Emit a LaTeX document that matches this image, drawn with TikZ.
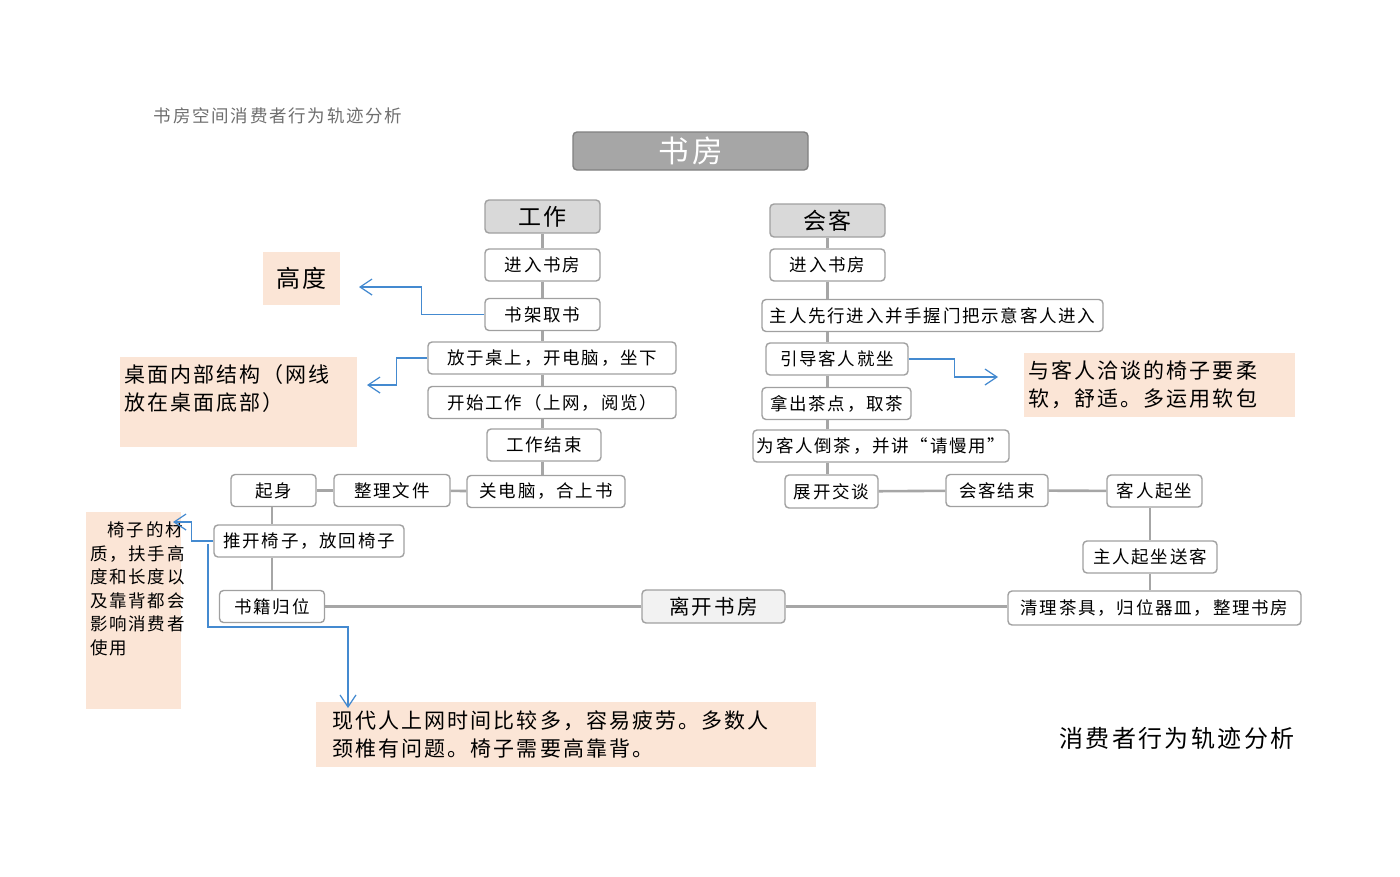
\documentclass[tikz,border=0pt]{standalone}
\usepackage{fontspec}
\setmainfont{Noto Sans CJK SC}[LetterSpace=10]
\usetikzlibrary{arrows.meta}
\definecolor{boxline}{HTML}{A0A0A0}
\definecolor{linkgray}{HTML}{A6A6A6}
\definecolor{headgray}{HTML}{A6A6A6}
\definecolor{branchgray}{HTML}{D9D9D9}
\definecolor{leavegray}{HTML}{F2F2F2}
\definecolor{hintblue}{RGB}{68,138,208}
\definecolor{notefill}{HTML}{FBE5D6}
\definecolor{titlegray}{HTML}{6E6E6E}
\tikzset{
stepbox/.style={draw=boxline, line width=1.4pt, rounded corners=4pt, fill=white, inner sep=0pt, minimum height=32pt, font=\fontsize{17.5}{20}\selectfont}, % every step of the trace
branch/.style={stepbox, fill=branchgray, minimum width=115pt, minimum height=33pt, font=\fontsize{23}{26}\selectfont}, % the two uses of the room
roomhead/.style={stepbox, draw=gray, fill=headgray, text=white, minimum width=235pt, minimum height=38pt, font=\fontsize{30.5}{32}\selectfont}, % the room itself
leave/.style={fill=leavegray, font=\fontsize{20.5}{23}\selectfont}, % the common end
link/.style={draw=linkgray, line width=2.6pt}, % grey connectors
hint/.style={->, >={Straight Barb[length=12pt,width=16pt]}, draw=hintblue, line width=1.2pt}, % blue pointers to the notes
note/.style={fill=notefill, anchor=north west, inner xsep=4pt, inner ysep=4pt, align=left, font=\fontsize{21}{28}\selectfont}, % peach remarks
}
\begin{document}
\begin{tikzpicture}[x=1pt, y=-1pt]
    \useasboundingbox (0,0) rectangle (1400,876);
    % headings
    \node[text=titlegray, font=\fontsize{17.5}{20}\selectfont] (pagetitle) at (278,116) {书房空间消费者行为轨迹分析};
    \node[roomhead] (room) at (690.5,151) {书房};
    \node[branch] (work) at (542.5,216.5) {工作};
    \node[branch] (visit) at (827.5,220.5) {会客};
    % working
    \node[stepbox, minimum width=115pt] (wEnter) at (542.5,265) {进入书房};
    \node[stepbox, minimum width=115pt] (wFetch) at (542.5,314.5) {书架取书};
    \node[stepbox, minimum width=248pt] (wPlace) at (552,358) {放于桌上，开电脑，坐下};
    \node[stepbox, minimum width=248pt] (wStart) at (552,402.5) {开始工作（上网，阅览）};
    \node[stepbox, minimum width=114pt] (wEnd) at (544,445) {工作结束};
    \node[stepbox, minimum width=158pt] (wClose) at (546,491.5) {关电脑，合上书};
    \node[stepbox, minimum width=116pt] (wTidy) at (392,490.5) {整理文件};
    \node[stepbox, minimum width=85pt] (wRise) at (273.5,490.5) {起身};
    \node[stepbox, minimum width=190pt] (wChair) at (309,541) {推开椅子，放回椅子};
    \node[stepbox, minimum width=105pt] (wBooks) at (272,606.5) {书籍归位};
    \node[stepbox, leave, minimum width=143pt, minimum height=33pt] (leave) at (713.5,606.5) {离开书房};
    % receiving a guest
    \node[stepbox, minimum width=115pt] (vEnter) at (827.5,265) {进入书房};
    \node[stepbox, minimum width=341pt] (vHost) at (932.5,315.5) {主人先行进入并手握门把示意客人进入};
    \node[stepbox, minimum width=142pt] (vGuide) at (837,359) {引导客人就坐};
    \node[stepbox, minimum width=149pt] (vSnack) at (836.5,403.5) {拿出茶点，取茶};
    \node[stepbox, minimum width=256pt] (vTea) at (881,446) {为客人倒茶，并讲“请慢用”};
    \node[stepbox, minimum width=93pt, minimum height=33pt] (vTalk) at (831.5,491.5) {展开交谈};
    \node[stepbox, minimum width=102pt] (vEnd) at (997,490.5) {会客结束};
    \node[stepbox, minimum width=95pt] (vRise) at (1154.5,491) {客人起坐};
    \node[stepbox, minimum width=134pt] (vSeeOff) at (1150,557) {主人起坐送客};
    \node[stepbox, minimum width=293pt, minimum height=34pt] (vClean) at (1154.5,608) {清理茶具，归位器皿，整理书房};
    \draw[link]
    (work) edge (wEnter)
    (wEnter) edge (wFetch)
    (wFetch.south) edge (wFetch.south |- wPlace.north)
    (wFetch.south |- wPlace.south) edge (wFetch.south |- wStart.north)
    (wFetch.south |- wStart.south) edge (wFetch.south |- wEnd.north)
    (wFetch.south |- wEnd.south) edge (wFetch.south |- wClose.north)
    (wClose) edge (wTidy)
    (wTidy) edge (wRise)
    (wBooks.north |- wRise.south) edge (wBooks.north |- wChair.north)
    (wBooks.north |- wChair.south) edge (wBooks.north)
    (wBooks) edge (leave)
    (leave) edge (leave -| vClean.west)
    (visit) edge (vEnter)
    (vEnter.south) edge (vEnter.south |- vHost.north)
    (vEnter.south |- vHost.south) edge (vEnter.south |- vGuide.north)
    (vEnter.south |- vGuide.south) edge (vEnter.south |- vSnack.north)
    (vEnter.south |- vSnack.south) edge (vEnter.south |- vTea.north)
    (vEnter.south |- vTea.south) edge (vEnter.south |- vTalk.north)
    (vTalk) edge (vEnd)
    (vEnd) edge (vRise)
    (vSeeOff.north) edge (vSeeOff.north |- vRise.south)
    (vSeeOff.south) edge (vSeeOff.south |- vClean.north)
    ;
    % remarks
    \node[note, minimum width=77pt, minimum height=53pt, align=center, font=\fontsize{24}{26}\selectfont] (nHeight) at (263,252) {高度};
    \node[note, inner ysep=7pt] (nDesk) at (120,357) {\parbox[t][76pt][t]{229pt}{桌面内部结构（网线\\放在桌面底部）}};
    \node[note, text width=263pt, minimum height=64pt] (nSofa) at (1024,353) {与客人洽谈的椅子要柔\\软，舒适。多运用软包};
    \node[note, inner ysep=10pt, font=\fontsize{17.5}{23.5}\selectfont] (nChair) at (86,512) {\parbox[t][177pt][t]{87pt}{\hspace*{1em}椅子的材\\质，扶手高\\度和长度以\\及靠背都会\\影响消费者\\使用}};
    \node[note, text width=468pt, inner xsep=16pt, minimum height=65pt] (nBack) at (316,702) {现代人上网时间比较多，容易疲劳。多数人\\颈椎有问题。椅子需要高靠背。};
    \node[font=\fontsize{24}{26}\selectfont] (caption) at (1177,738) {消费者行为轨迹分析};
    % pointers
    \coordinate (heightTip) at (359,287);
    \coordinate (deskTip) at (367,385);
    \coordinate (sofaTip) at (998,377);
    \coordinate (chairTip) at (173,522);
    \coordinate (backFrom) at (208,544);
    \coordinate (backTip) at (348,708);
    \draw[hint] (wFetch.west) -- ++(-63,0) |- (heightTip);
    \draw[hint] (wPlace.west) -- ++(-31,0) |- (deskTip);
    \draw[hint] (vGuide.east) -- ++(46,0) |- (sofaTip);
    \draw[hint] (wChair.west) -- ++(-22,0) |- (chairTip);
    \draw[hint] (backFrom) -- ++(0,83) -| (backTip);
\end{tikzpicture}
\end{document}
